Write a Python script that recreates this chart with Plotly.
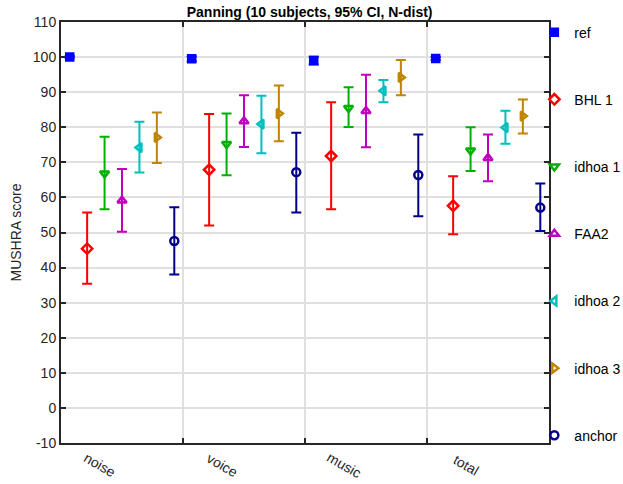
import plotly.graph_objects as go

# Conditions along the x axis and the methods compared in each
conditions = ["noise", "voice", "music", "total"]
methods = ["ref", "BHL 1", "idhoa 1", "FAA2", "idhoa 2", "idhoa 3", "anchor"]

# Mean MUSHRA scores per method (one value per condition)
means = {
    "ref":     [100.0, 99.5, 99.0, 99.6],
    "BHL 1":   [45.4, 67.9, 71.8, 57.6],
    "idhoa 1": [66.8, 75.2, 85.5, 73.4],
    "FAA2":    [59.1, 81.7, 84.6, 71.2],
    "idhoa 2": [74.2, 80.9, 90.4, 79.9],
    "idhoa 3": [77.1, 83.9, 94.2, 83.2],
    "anchor":  [47.6, 67.2, 66.4, 57.1],
}
# Upper and lower 95% confidence limits
upper = {
    "ref":     [100.3, 100.2, 100.1, 100.0],
    "BHL 1":   [55.7, 83.8, 87.1, 66.0],
    "idhoa 1": [77.3, 83.9, 91.4, 80.0],
    "FAA2":    [68.1, 89.1, 95.0, 77.9],
    "idhoa 2": [81.6, 89.0, 93.5, 84.7],
    "idhoa 3": [84.2, 91.9, 99.2, 87.9],
    "anchor":  [57.2, 78.4, 77.9, 64.0],
}
lower = {
    "ref":     [99.7, 98.8, 97.9, 99.2],
    "BHL 1":   [35.4, 52.0, 56.6, 49.5],
    "idhoa 1": [56.6, 66.3, 80.1, 67.5],
    "FAA2":    [50.2, 74.4, 74.3, 64.6],
    "idhoa 2": [67.1, 72.6, 87.1, 75.3],
    "idhoa 3": [69.8, 76.0, 89.1, 78.2],
    "anchor":  [38.0, 55.7, 54.6, 50.4],
}

colors = ["#0000ff", "#ff0000", "#00b000", "#bf00bf", "#00bfbf", "#bf8500", "#00008b"]
symbols = ["square", "diamond-open", "triangle-down-open", "triangle-up-open",
           "triangle-left-open", "triangle-right-open", "circle-open"]
ref_lines = [0, 100]
y_ticks = list(range(-10, 111, 10))

fig = go.Figure()
n = len(methods)
for k, m in enumerate(methods):
    xs = [c + (k + 0.5) / n for c in range(len(conditions))]
    ys = means[m]
    ep = [u - y for u, y in zip(upper[m], ys)]
    em = [y - l for l, y in zip(lower[m], ys)]
    fig.add_trace(go.Scatter(
        x=xs, y=ys, mode="markers", name=m, legendgroup=m,
        marker=dict(symbol=symbols[k], color=colors[k], size=8 if k else 7,
                    line=dict(color=colors[k], width=2.5)),
        error_y=dict(type="data", symmetric=False, array=ep, arrayminus=em,
                     color=colors[k], thickness=2, width=5),
    ))

for yv in ref_lines:
    fig.add_shape(type="line", xref="paper", x0=0, x1=1, yref="y", y0=yv, y1=yv,
                  line=dict(color="#262626", width=1.5), layer="below")

# Rotated category labels under each group
for i, c in enumerate(conditions):
    fig.add_annotation(x=i + 0.32, xref="x", y=-0.052, yref="paper", text=c,
                       showarrow=False, textangle=30, xanchor="center", yanchor="middle",
                       font=dict(size=14, color="#262626"))

axis_common = dict(showline=True, linecolor="#262626", linewidth=2, mirror="ticks",
                   ticks="inside", ticklen=5, tickwidth=2, tickcolor="#262626",
                   gridcolor="#e0e0e0", gridwidth=2, zeroline=False)

fig.update_xaxes(range=[0, 4], tickvals=[0, 1, 2, 3, 4], ticktext=[""] * 5,
                 **axis_common)
fig.update_yaxes(range=[-10, 110], tickvals=y_ticks, ticktext=[str(v) for v in y_ticks],
                 title=dict(text="MUSHRA score", font=dict(size=14, color="#262626"), standoff=8),
                 tickfont=dict(size=14, color="#262626"), **axis_common)

fig.update_layout(
    width=623, height=484,
    margin=dict(l=61, r=74, t=22, b=41, autoexpand=False),
    plot_bgcolor="white", paper_bgcolor="white",
    font=dict(family="Liberation Sans, Arial, sans-serif", color="#262626"),
    title=dict(text="<b>Panning (10 subjects, 95% CI, N-dist)</b>", x=0.497, xanchor="center",
               y=0.975, yanchor="middle", font=dict(size=14, color="#000000")),
    legend=dict(x=0.97, xanchor="left", y=1.013, yanchor="top", bgcolor="rgba(0,0,0,0)",
                font=dict(size=14, color="#000000"), tracegroupgap=46, itemwidth=30,
                maxheight=1.0),
    showlegend=True,
)

fig.write_html("out.html")
